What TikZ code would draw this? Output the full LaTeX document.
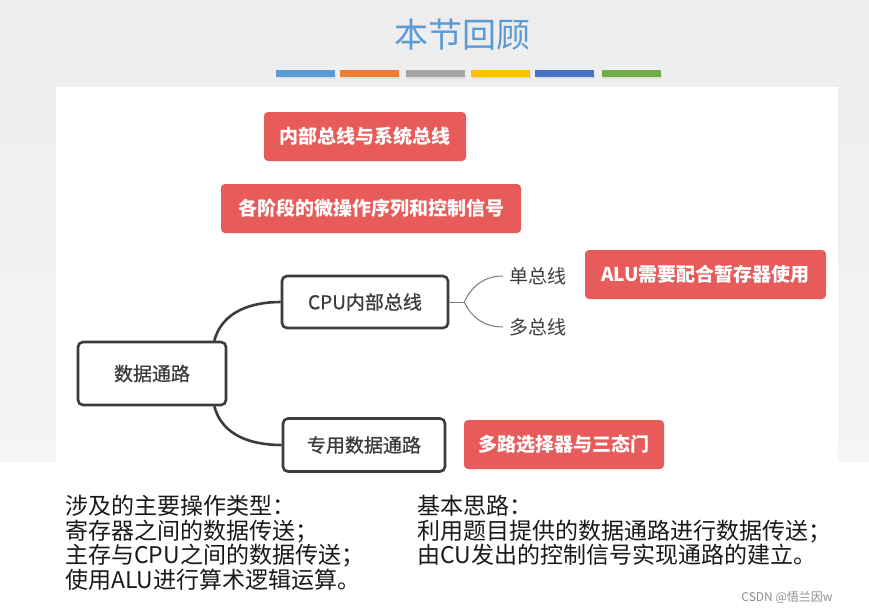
\documentclass[tikz,border=0pt]{standalone}
\usepackage{fontspec}
\setmainfont{Noto Sans CJK SC}
\newfontfamily\mediumfont{Noto Sans CJK SC}[FakeBold=0.9]
\usetikzlibrary{positioning}
\usepackage{xcolor}
\definecolor{slidegrey}{HTML}{EDEDED}
\definecolor{titleblue}{HTML}{5B9BD5}
\definecolor{notered}{HTML}{E85B5B}
\definecolor{boxgrey}{HTML}{3C3C3C}
\definecolor{twiggrey}{HTML}{7A7A7A}
\definecolor{barblue}{HTML}{5B9BD5}
\definecolor{barorange}{HTML}{ED7D31}
\definecolor{bargrey}{HTML}{A5A5A5}
\definecolor{bargold}{HTML}{FFC000}
\definecolor{bardarkblue}{HTML}{4472C4}
\definecolor{bargreen}{HTML}{70AD47}

\tikzset{
  redbox/.style={fill=notered,text=white,font=\fontsize{19}{21}\selectfont\bfseries,
    rounded corners=4pt,minimum height=49pt,inner xsep=12pt},
  topicbox/.style={draw=boxgrey,line width=2.6pt,fill=white,text=boxgrey,
    font=\fontsize{19}{21}\selectfont\mediumfont,rounded corners=5pt},
  leaf/.style={text=boxgrey,font=\fontsize{19}{21}\selectfont,inner xsep=6pt},
  link/.style={draw=boxgrey,line width=2.6pt},
  twig/.style={draw=twiggrey,line width=1pt},
  notes/.style={text=black!90,font=\fontsize{23}{24.5}\selectfont,align=left,
    anchor=north west,inner sep=0pt}
}

\begin{document}
\begin{tikzpicture}[x=1pt,y=1pt]
  % Slide background
  \shade[top color=slidegrey,bottom color=black!4] (0,0) rectangle (869,-462);
  \fill[white] (0,-462) rectangle (869,-614);
  \fill[white] (56,-87) rectangle (838,-486);
  % Title
  \node[text=titleblue,font=\fontsize{34}{36}\selectfont] (title) at (462,-35) {本节回顾};
  \foreach \c/\x in {barblue/276,barorange/340,bargrey/406,bargold/471,bardarkblue/535,bargreen/602} {
    \fill[black!12] (\x+1,-75) rectangle (\x+60,-79);
    \fill[\c] (\x,-70) rectangle (\x+59,-77);
  }
  % Red notes
  \node[redbox,minimum width=202pt] (bus) at (365,-136.5) {内部总线与系统总线};
  \node[redbox,minimum width=300pt] (micro) at (371,-208.5) {各阶段的微操作序列和控制信号};
  \node[redbox,minimum width=241pt] (alu) at (705.5,-274.5) {ALU需要配合暂存器使用};
  \node[redbox,minimum width=200pt] (mux) at (564,-444.5) {多路选择器与三态门};
  % Mind map
  \node[topicbox,minimum width=148pt,minimum height=63pt] (path) at (152,-373.5) {数据通路};
  \node[topicbox,minimum width=166pt,minimum height=52pt] (cpu) at (365,-302) {CPU内部总线};
  \node[topicbox,minimum width=162pt,minimum height=53pt] (special) at (364,-445) {专用数据通路};
  \node[leaf,anchor=west] (single) at (503,-276) {单总线};
  \node[leaf,anchor=west] (multi) at (503,-327) {多总线};
  \draw[link] ([xshift=-13pt]path.north east) to[out=75,in=180] (cpu.west);
  \draw[link] ([xshift=-13pt]path.south east) to[out=-75,in=180] (special.west);
  \coordinate[right=15pt of cpu.east] (fork);
  \draw[twig] (cpu.east) -- (fork);
  \draw[twig] (fork) to[out=65,in=180] (single.west);
  \draw[twig] (fork) to[out=-65,in=180] (multi.west);
  % Notes below
  \node[notes] (ops) at (65,-495) {涉及的主要操作类型：\\寄存器之间的数据传送；\\主存与CPU之间的数据传送；\\使用ALU进行算术逻辑运算。};
  \node[notes] (idea) at (417,-495) {基本思路：\\利用题目提供的数据通路进行数据传送；\\由CU发出的控制信号实现通路的建立。};
  \node[text=black!45,font=\fontsize{12}{14}\selectfont] (csdn) at (787,-597) {CSDN @悟兰因w};
\end{tikzpicture}
\end{document}
